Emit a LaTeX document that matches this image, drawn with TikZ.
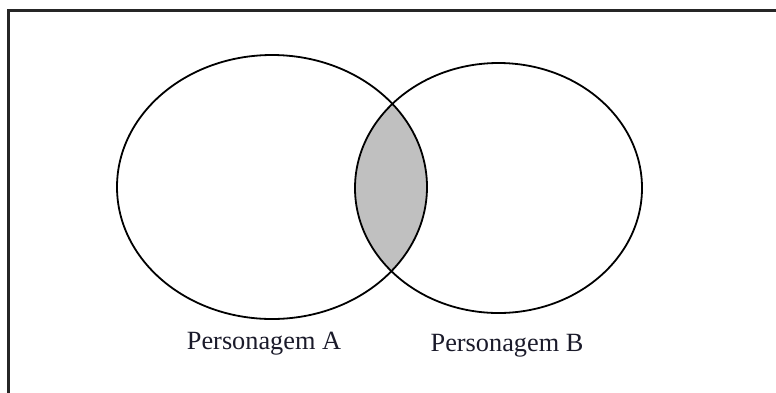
\documentclass[tikz,border=0pt]{standalone}
\usepackage{fontspec}
\setmainfont{Liberation Serif}
\usetikzlibrary{shapes.geometric}
\definecolor{lensgray}{HTML}{C0C0C0}
\definecolor{labelink}{HTML}{1A1A2A}
\tikzset{
  venn/.style={draw=black, line width=1.8pt, ellipse, inner sep=0pt},
  lbl/.style={font=\fontsize{26.3}{30}\selectfont, text=labelink, inner sep=0pt},
}
\begin{document}
\begin{tikzpicture}[x=1pt, y=-1pt]
\clip (0,0) rectangle (776,392);
\fill[white] (0,0) rectangle (776,392);
% frame (right and bottom edges lie outside the picture)
\draw[line width=3pt, draw=black!85] (8,10.5) rectangle (800,420);
% lens
\begin{scope}
  \clip (272,187) ellipse [x radius=155, y radius=132];
  \fill[lensgray] (498.5,188) ellipse [x radius=143.5, y radius=125];
\end{scope}
\node[venn, minimum width=310pt, minimum height=264pt] (A) at (272,187) {};
\node[venn, minimum width=287pt, minimum height=250pt] (B) at (498.5,188) {};
\node[lbl] (la) at (264,344) {Personagem A};
\node[lbl] (lb) at (507,346) {Personagem B};
\end{tikzpicture}
\end{document}
